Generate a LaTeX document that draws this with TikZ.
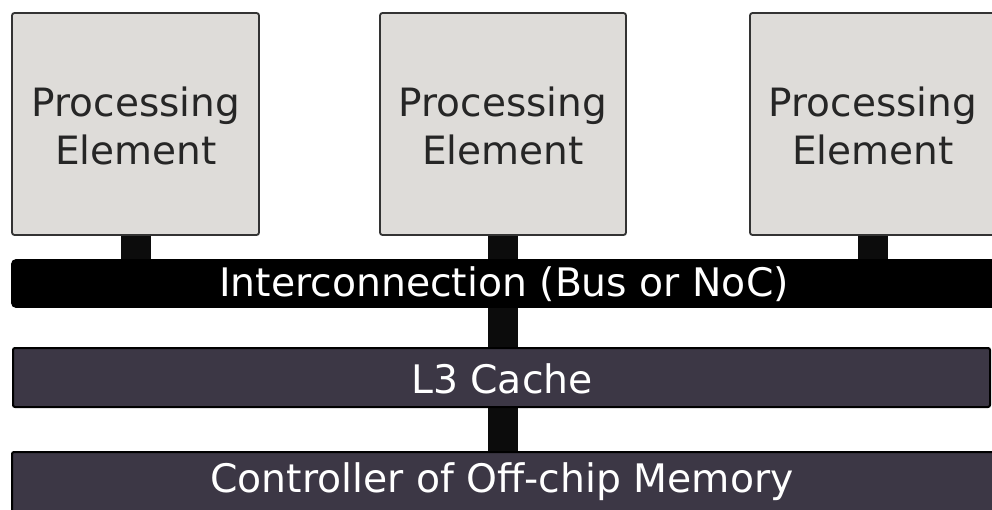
\documentclass[tikz,border=0pt]{standalone}
\usepackage{fontspec}
\setmainfont{DejaVu Sans}
\definecolor{pegray}{HTML}{DEDCD9}
\definecolor{darkbar}{HTML}{3C3745}
\definecolor{stubc}{HTML}{0C0C0C}
\begin{document}
\begin{tikzpicture}[x=1pt,y=-1pt,
  pebox/.style={draw=black!80,line width=1.8pt,fill=pegray,rounded corners=2.5pt},
  busbar/.style={draw=black,line width=1.8pt,fill=black,rounded corners=4pt},
  darkbarstyle/.style={draw=black,line width=2pt,fill=darkbar,rounded corners=2pt},
  stub/.style={fill=stubc,draw=none},
  petext/.style={font=\fontsize{39}{48}\selectfont,align=center,text=black!85},
  bartext/.style={font=\fontsize{39.3}{48}\selectfont,text=white}]
\useasboundingbox (0,0) rectangle (992,510);
\fill[white] (0,0) rectangle (992,510);
% stubs
\fill[stub] (121,230) rectangle (151,264);
\fill[stub] (488,230) rectangle (518,264);
\fill[stub] (858,230) rectangle (888,264);
\fill[stub] (488,305) rectangle (518,350);
\fill[stub] (488,404) rectangle (518,454);
% PE boxes
\draw[pebox] (12,13) rectangle (259,235);
\draw[pebox] (380,13) rectangle (626,235);
\draw[pebox] (750,13) rectangle (998,235);
\node[petext] (pe1) at (136,126) {Processing\\Element};
\node[petext] (pe2) at (503,126) {Processing\\Element};
\node[petext] (pe3) at (873,126) {Processing\\Element};
% bars
\draw[busbar] (12,260) rectangle (1000,307);
\node[bartext] (bus) at (504,284) {Interconnection (Bus or NoC)};
\draw[darkbarstyle] (13,348) rectangle (990,407);
\node[bartext] (l3) at (502,379) {L3 Cache};
\draw[darkbarstyle] (12,452) rectangle (1000,520);
\node[bartext] (mem) at (502,482) {Controller of Off-chip Memory};
\end{tikzpicture}
\end{document}
